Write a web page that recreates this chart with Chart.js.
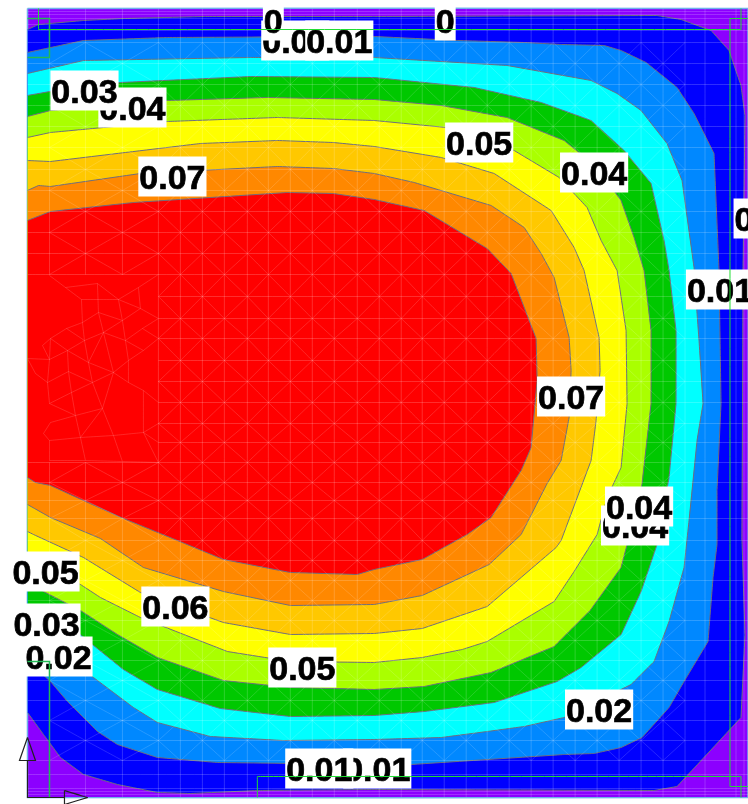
<!DOCTYPE html>
<html lang="en">
  <head>
    <meta charset="UTF-8" />
    <title>Contour plot</title>
    <style>
      html, body { margin: 0; padding: 0; background: #fff; }
      canvas { display: block; }
    </style>
    <script src="https://cdn.jsdelivr.net/npm/chart.js"></script>
  </head>
  <body>
    <canvas id="plate" width="748" height="804"></canvas>
    <script>
      // contour boundaries, clockwise from the left edge
      const plateEdge = [[27, 8], [748, 8], [748, 797], [27, 797], [27, 8]];
      const bound0 = [[27,29],[38,24],[83,20],[124,18],[205,16],[374,16],[657,15],[681,19],[711,30],[729,50],[741,85],[745,115],[743,270],[742,540],[745,634],[741,717],[677,786],[654,790],[374,789],[257,790],[190,793],[157,792],[117,784],[83,774],[60,757],[43,734],[27,712]];
      const bound1 = [[27,52],[83,40],[167,37],[374,36],[457,40],[524,42],[561,44],[604,45],[621,50],[646,62],[677,87],[694,113],[714,153],[719,270],[721,403],[717,490],[717,544],[713,577],[708,641],[684,681],[669,707],[642,737],[621,747],[594,753],[564,754],[411,764],[374,764],[217,762],[157,757],[117,744],[97,731],[67,701],[50,681],[40,672],[27,650]];
      const bound2 = [[27,73],[83,60],[250,57],[374,57],[507,65],[591,80],[617,93],[641,110],[667,143],[682,180],[694,267],[697,313],[699,340],[703,403],[697,440],[689,520],[684,567],[669,621],[654,661],[631,684],[564,717],[524,726],[487,731],[441,737],[374,739],[283,740],[210,736],[157,722],[133,707],[93,677],[50,650],[27,635]];
      const bound3 = [[27,95],[83,85],[120,82],[250,76],[374,77],[474,87],[541,102],[591,120],[624,150],[651,183],[664,240],[669,270],[676,330],[676,403],[669,477],[657,544],[641,591],[621,634],[581,667],[557,681],[494,702],[424,711],[374,715],[290,716],[220,708],[157,689],[123,669],[92,644],[80,634],[50,625],[27,620]];
      const bound4 = [[27,116],[50,110],[167,100],[267,97],[374,99],[441,105],[507,117],[564,140],[595,165],[621,200],[634,237],[644,270],[651,330],[651,403],[642,483],[627,544],[621,567],[590,610],[554,646],[491,672],[424,686],[374,689],[290,687],[223,680],[157,657],[117,634],[80,610],[43,591],[27,580]];
      const bound5 = [[27,137],[50,132],[167,121],[277,117],[374,120],[446,127],[514,150],[559,177],[587,207],[601,240],[617,270],[626,330],[627,403],[621,467],[607,497],[597,534],[574,571],[554,601],[487,641],[462,649],[422,657],[374,662],[290,661],[227,651],[140,617],[100,597],[80,584],[43,567],[27,558]];
      const bound6 = [[27,160],[50,161],[200,143],[277,140],[333,142],[374,146],[441,157],[494,173],[551,210],[574,247],[584,270],[599,337],[600,370],[596,420],[591,460],[561,540],[556,547],[487,606],[422,628],[374,633],[290,634],[223,622],[140,592],[83,557],[33,534],[27,531]];
      const bound7 = [[27,190],[38,185],[50,186],[140,173],[277,166],[333,168],[374,173],[414,182],[491,205],[524,227],[541,253],[554,277],[569,337],[571,370],[569,417],[561,460],[547,483],[521,534],[489,564],[422,595],[374,604],[290,605],[223,591],[143,567],[100,538],[50,517],[27,504]];
      const bound8 = [[27,220],[50,211],[133,202],[287,192],[333,193],[374,199],[424,210],[487,248],[511,273],[536,338],[537,380],[531,447],[521,470],[491,517],[467,534],[422,559],[374,569],[357,574],[290,572],[223,559],[177,540],[123,518],[83,500],[50,485],[35,482],[27,477]];
      const bandBounds = [bound0, bound1, bound2, bound3, bound4, bound5, bound6, bound7, bound8];
      const bandColors = ["#0000ff", "#0088ff", "#00ffff", "#00c800", "#aaff00", "#ffff00", "#ffc800", "#ff8800", "#ff0000"];

      // contour labels, painter's order
      const labelText = ["0.01", "0", "0.01", "0", "0.04", "0.03", "0.07", "0.05", "0.04", "0", "0.01", "0.07", "0.04", "0.04", "0.02", "0.05", "0.06", "0.05", "0.03", "0.02", "0.01", "0.01"];
      const labelX = [295, 273, 339, 445, 132, 84, 172, 479, 594, 744, 720, 571, 635, 639, 599, 302, 175, 45, 46, 58, 377, 319];
      const labelY = [40, 20, 40, 20, 107, 90, 176, 142, 172, 218, 289, 396, 525, 506, 709, 667, 606, 571, 623, 656, 768, 768];

      // shell mesh
      const meshXs = [49, 85, 122, 158, 180, 202, 224, 247, 268, 290, 312, 334, 357, 379, 401, 422, 444, 466, 487, 509, 531, 553, 575, 597, 619, 641, 663, 685];
      const meshYs = [42, 63, 84, 105, 126, 147, 169, 190, 211, 232, 253, 274, 296, 318, 338, 360, 381, 402, 423, 442, 462, 482, 500, 518, 540, 560, 580, 600, 620, 640, 660, 680, 700, 720, 740, 760];
      const edgeXs = [705, 736, 744];
      const edgeYs = [11, 14, 18, 24, 30, 774, 788, 791, 794];
      const denseNodes = { A:[49,275], B:[65,287], C:[97,283], D:[118,299], E:[81,299], F:[138,287], G:[158,274], H:[158,318], I:[140,308], J:[122,320], K:[103,332], L:[98,312], M:[82,322], N:[66,328], O:[50,338], P:[84,340], Q:[125,340], R:[142,328], S:[158,338], T:[143,350], U:[128,360], V:[113,372], W:[88,362], X:[67,350], Y:[49,359], Z:[42,345], a:[68,371], b:[92,382], c:[71,392], d:[49,403], e:[47,382], f:[35,373], g:[27,358], h:[128,382], k:[143,390], l:[158,402], m:[102,408], n:[75,415], o:[50,422], p:[43,433], q:[49,440], r:[80,437], s:[113,435], t:[143,432], u:[122,461], v:[85,460], w:[49,460], x:[158,423], y:[158,442], z:[158,462] };
      const denseLinks = "AB BC CD DE EB DF FG FI IH DI IJ DJ EM ML LC LJ LK KJ KQ JQ QR RH RS QT TS TU QU UV KV KW MP PK PW NM NO NP OX XP XW XY YO ZO ZY WV Wb bV ba aX ac cb cd de ea eY fe fg gY bm mV Vh hU hk kl kt mn nc nd no op pq qr rn rm ms st sr tx ty tz su rv uv vw wq zu".split(" ");

      // frame lines and supports
      const frameLines = [
        [[38,8],[38,29],[741,29],[741,8]],
        [[748,18],[730,18],[730,786],[748,786]],
        [[257,797],[257,776],[741,776],[741,797]]
      ];
      const leftFrameLines = [
        [[27,18],[49,18],[49,57],[27,57]],
        [[27,661],[49,661],[49,797]]
      ];
      const supportLines = [
        [[27,737],[35,760],[19,760],[27,737]],
        [[27,760],[27,797],[64,797]],
        [[64,790],[87,797],[64,804],[64,790]]
      ];

      const inDenseZone = (x, y) => x < 158 && y > 274 && y < 462;

      function toPoints(list) {
        return list.map(([x, y]) => ({ x, y }));
      }

      function joinLines(lines) {
        const pts = [];
        lines.forEach((line) => {
          line.forEach(([x, y]) => pts.push({ x, y }));
          pts.push({ x: null, y: null });
        });
        return pts;
      }

      function gridLines() {
        const lines = [];
        meshXs.forEach((x) => {
          if (x < 158) {
            lines.push([[x, 8], [x, 274]], [[x, 462], [x, 797]]);
          } else {
            lines.push([[x, 8], [x, 797]]);
          }
        });
        meshYs.forEach((y) => {
          lines.push([[y > 274 && y < 462 ? 158 : 27, y], [748, y]]);
        });
        edgeXs.forEach((x) => lines.push([[x, 8], [x, 797]]));
        edgeYs.forEach((y) => lines.push([[27, y], [748, y]]));
        return lines;
      }

      function diagonalLines() {
        const lines = [];
        // checkerboard diagonals give the diamonds of the mesh
        for (let i = 0; i < meshXs.length - 1; i++) {
          for (let j = 0; j < meshYs.length - 1; j++) {
            const x0 = meshXs[i], x1 = meshXs[i + 1], y0 = meshYs[j], y1 = meshYs[j + 1];
            if (inDenseZone(x0, y1) || inDenseZone(x0, y0)) continue;
            if ((i + j) % 2) lines.push([[x0, y0], [x1, y1]]);
            else lines.push([[x0, y1], [x1, y0]]);
          }
        }
        denseLinks.forEach((link) => lines.push([denseNodes[link[0]], denseNodes[link[1]]]));
        return lines;
      }

      // painter's order: first entry ends up at the bottom
      const layers = [
        { label: "plate", data: toPoints(plateEdge), fill: "shape", backgroundColor: "#8c00ff", borderColor: "#6fb0ea", borderWidth: 1.5, clip: false },
      ];
      bandBounds.forEach((bound, i) => {
        layers.push({ label: "band " + i, data: toPoints(bound), fill: "shape", backgroundColor: bandColors[i], borderColor: "#6e6e7e", borderWidth: 1 });
      });
      layers.push({ label: "mesh grid", data: joinLines(gridLines()), borderColor: "rgba(255,255,255,0.18)", borderWidth: 1 });
      layers.push({ label: "mesh diagonals", data: joinLines(diagonalLines()), borderColor: "rgba(255,255,255,0.15)", borderWidth: 1 });
      layers.push({ label: "labels", data: labelX.map((x, i) => ({ x, y: labelY[i] })), showLine: false, clip: false });
      layers.push({ label: "frames", data: joinLines(frameLines), borderColor: "#22dd33", borderWidth: 1, clip: false });
      layers.push({ label: "left frames", data: joinLines(leftFrameLines), borderColor: "#22bb55", borderWidth: 1.5, clip: false });
      layers.push({ label: "supports", data: joinLines(supportLines), borderColor: "#222", borderWidth: 1.2, clip: false });
      layers.forEach((layer, i) => {
        layer.order = layers.length - i;
        layer.pointRadius = 0;
        // a tiny tension keeps Chart.js off its fast path, which merges points sharing an x
        layer.tension = 0.001;
        layer.capBezierPoints = false;
        if (layer.showLine === undefined) layer.showLine = true;
      });
      const labelLayer = layers.findIndex((layer) => layer.label === "labels");

      const contourLabels = {
        id: "contourLabels",
        afterDatasetDraw(chart, args) {
          if (args.index !== labelLayer) return;
          const ctx = chart.ctx;
          ctx.save();
          ctx.font = 'bold 34px "Liberation Sans"';
          ctx.textAlign = "center";
          ctx.textBaseline = "middle";
          ctx.lineWidth = 0.7;
          ctx.strokeStyle = "#000";
          args.meta.data.forEach((pt, i) => {
            const w = ctx.measureText(labelText[i]).width + 2;
            ctx.fillStyle = "#fff";
            ctx.fillRect(pt.x - w / 2, pt.y - 20, w, 40);
            ctx.fillStyle = "#000";
            ctx.fillText(labelText[i], pt.x, pt.y + 3);
            ctx.strokeText(labelText[i], pt.x, pt.y + 3);
          });
          ctx.restore();
        },
      };

      new Chart(document.getElementById("plate"), {
        type: "scatter",
        data: { datasets: layers },
        plugins: [contourLabels],
        options: {
          responsive: false,
          animation: false,
          devicePixelRatio: 1,
          layout: { padding: { left: 27.5, top: 8.5, right: 0, bottom: 6.5 } },
          plugins: { legend: { display: false }, tooltip: { enabled: false } },
          scales: {
            x: { type: "linear", display: false, min: 27, max: 748 },
            y: { type: "linear", display: false, reverse: true, min: 8, max: 797 },
          },
        },
      });
    </script>
  </body>
</html>
